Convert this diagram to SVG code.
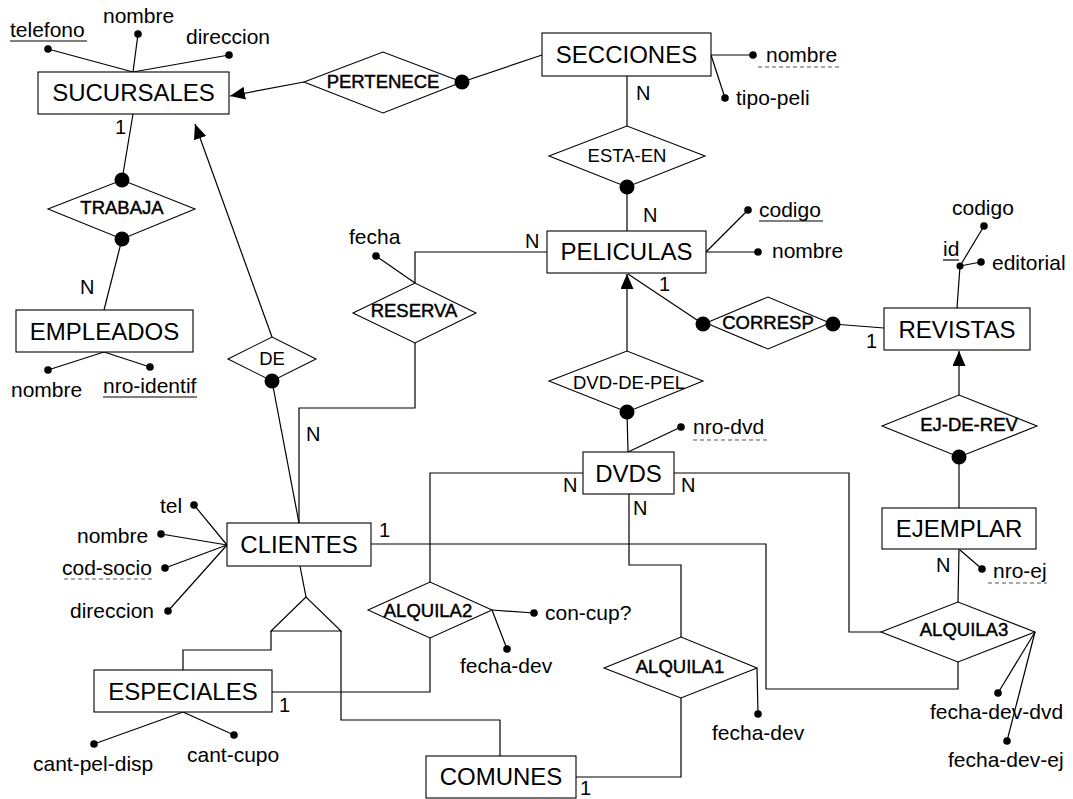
<svg xmlns="http://www.w3.org/2000/svg" width="1073" height="799" viewBox="0 0 1073 799">
<style>
text{font-family:"Liberation Sans",Arial,Helvetica,sans-serif;fill:#000}
.ent rect{fill:#fff;stroke:#000;stroke-width:1.1}
.ent text{font-size:24px;text-anchor:middle}
.rel polygon{fill:#fff;stroke:#000;stroke-width:1.1}
.rel text{font-size:18.5px;text-anchor:middle}
.rel text.b{stroke:#000;stroke-width:0.45}
.att text{font-size:21px}
.card{font-size:20px}
.c line,.c polyline{stroke:#000;stroke-width:1.2;fill:none}
.dot{fill:#000}
.ul{stroke:#000;stroke-width:1.2}
.dul{stroke:#555;stroke-width:1.2;stroke-dasharray:4 3}
</style>
<defs>
<marker id="arr" markerUnits="userSpaceOnUse" markerWidth="16" markerHeight="13" refX="15" refY="6.5" orient="auto">
<path d="M0,0 L15,6.5 L0,13 z" fill="#000"/>
</marker>
</defs>
<rect width="1073" height="799" fill="#fff"/>

<g id="connectors" class="c">
<line x1="304" y1="82" x2="230" y2="96" marker-end="url(#arr)"/>
<line x1="462" y1="82" x2="542" y2="55"/>
<line x1="133" y1="114" x2="122" y2="180"/>
<line x1="122" y1="239" x2="104" y2="310"/>
<line x1="272" y1="337" x2="195" y2="124" marker-end="url(#arr)"/>
<line x1="272" y1="381" x2="299" y2="523"/>
<line x1="627" y1="76" x2="627" y2="126"/>
<line x1="627" y1="187" x2="627" y2="231"/>
<polyline points="547,252 415,252 415,283"/>
<polyline points="415,343 415,408 299,408 299,523"/>
<line x1="627" y1="351" x2="627" y2="274" marker-end="url(#arr)"/>
<line x1="628" y1="274" x2="703" y2="324"/>
<line x1="833" y1="324" x2="884" y2="328"/>
<line x1="959" y1="395" x2="959" y2="351" marker-end="url(#arr)"/>
<line x1="959" y1="457" x2="959" y2="508"/>
<line x1="627" y1="412" x2="628" y2="452"/>
<polyline points="583,473 430,473 430,582"/>
<polyline points="430,638 430,692 272,692"/>
<polyline points="674,473 849,473 849,632 881,632"/>
<polyline points="371,544 766,544 766,689 958,689 958,662"/>
<line x1="959" y1="549" x2="958" y2="602"/>
<polyline points="629,494 629,565 681,565 681,637"/>
<polyline points="681,698 681,777 576,777"/>
<line x1="300" y1="566" x2="306" y2="597"/>
<polyline points="271,631 271,650 183,650 183,670"/>
<polyline points="341,631 341,720 500,720 500,756"/>
<!-- attribute links -->
<line x1="133" y1="72" x2="48" y2="49"/>
<line x1="133" y1="72" x2="138" y2="34"/>
<line x1="133" y1="72" x2="229" y2="55"/>
<line x1="104" y1="352" x2="48" y2="370"/>
<line x1="104" y1="352" x2="150" y2="367"/>
<line x1="711" y1="55" x2="753" y2="55"/>
<line x1="711" y1="55" x2="725" y2="98"/>
<line x1="706" y1="252" x2="748" y2="210"/>
<line x1="706" y1="252" x2="758" y2="252"/>
<line x1="957" y1="308" x2="960" y2="266"/>
<line x1="960" y1="266" x2="984" y2="226"/>
<line x1="960" y1="266" x2="981" y2="262"/>
<line x1="415" y1="283" x2="376" y2="256"/>
<line x1="628" y1="452" x2="681" y2="427"/>
<line x1="227" y1="545" x2="194" y2="505"/>
<line x1="227" y1="545" x2="161" y2="534"/>
<line x1="227" y1="545" x2="165" y2="568"/>
<line x1="227" y1="545" x2="168" y2="611"/>
<line x1="183" y1="712" x2="94" y2="744"/>
<line x1="183" y1="712" x2="234" y2="735"/>
<line x1="492" y1="610" x2="534" y2="613"/>
<line x1="492" y1="610" x2="507" y2="649"/>
<line x1="757" y1="668" x2="758" y2="714"/>
<line x1="960" y1="550" x2="982" y2="569"/>
<line x1="1035" y1="632" x2="998" y2="693"/>
<line x1="1035" y1="632" x2="1007" y2="741"/>
</g>

<!-- entities -->
<g id="SUCURSALES" class="ent"><rect x="38" y="72" width="191" height="42"/><text x="133.5" y="101">SUCURSALES</text></g>
<g id="SECCIONES" class="ent"><rect x="542" y="33" width="169" height="43"/><text x="626.5" y="63">SECCIONES</text></g>
<g id="PELICULAS" class="ent"><rect x="547" y="231" width="159" height="42"/><text x="626.5" y="260">PELICULAS</text></g>
<g id="REVISTAS" class="ent"><rect x="884" y="308" width="146" height="42"/><text x="957" y="338">REVISTAS</text></g>
<g id="EMPLEADOS" class="ent"><rect x="16" y="310" width="177" height="42"/><text x="104.5" y="340">EMPLEADOS</text></g>
<g id="CLIENTES" class="ent"><rect x="227" y="523" width="144" height="43"/><text x="299" y="553">CLIENTES</text></g>
<g id="DVDS" class="ent"><rect x="583" y="452" width="91" height="42"/><text x="628.5" y="482">DVDS</text></g>
<g id="EJEMPLAR" class="ent"><rect x="882" y="508" width="154" height="41"/><text x="959" y="537">EJEMPLAR</text></g>
<g id="ESPECIALES" class="ent"><rect x="94" y="670" width="178" height="42"/><text x="183" y="700">ESPECIALES</text></g>
<g id="COMUNES" class="ent"><rect x="426" y="756" width="150" height="42"/><text x="501" y="785">COMUNES</text></g>

<!-- ISA triangle -->
<g id="ISA" class="rel"><polygon points="306,597 271,631 341,631"/></g>

<!-- relationships -->
<g id="PERTENECE" class="rel"><polygon points="304,82 383,52 462,82 383,113"/><text class="b" x="383" y="88">PERTENECE</text><circle class="dot" cx="462" cy="82" r="7.5"/></g>
<g id="TRABAJA" class="rel"><polygon points="48,209 122,180 195,209 122,239"/><text class="b" x="122" y="214">TRABAJA</text><circle class="dot" cx="122" cy="180" r="7.5"/><circle class="dot" cx="122" cy="239" r="7.5"/></g>
<g id="ESTA-EN" class="rel"><polygon points="549,156 627,126 705,156 627,187"/><text x="627" y="162">ESTA-EN</text><circle class="dot" cx="627" cy="187" r="7.5"/></g>
<g id="RESERVA" class="rel"><polygon points="353,313 415,283 476,313 415,343"/><text class="b" x="414" y="317">RESERVA</text></g>
<g id="DE" class="rel"><polygon points="228,359 272,337 316,359 272,381"/><text x="272" y="365">DE</text><circle class="dot" cx="272" cy="381" r="7.5"/></g>
<g id="DVD-DE-PEL" class="rel"><polygon points="549,381 627,351 703,381 627,412"/><text x="629" y="389">DVD-DE-PEL</text><circle class="dot" cx="627" cy="412" r="7.5"/></g>
<g id="CORRESP" class="rel"><polygon points="706,323 768,297 830,323 768,349"/><text class="b" x="768" y="329">CORRESP</text><circle class="dot" cx="703" cy="324" r="7.5"/><circle class="dot" cx="833" cy="324" r="7.5"/></g>
<g id="EJ-DE-REV" class="rel"><polygon points="882,426 959,395 1037,426 959,457"/><text class="b" x="969" y="431">EJ-DE-REV</text><circle class="dot" cx="959" cy="457" r="7.5"/></g>
<g id="ALQUILA2" class="rel"><polygon points="368,610 430,582 492,610 430,638"/><text class="b" x="428" y="617">ALQUILA2</text></g>
<g id="ALQUILA1" class="rel"><polygon points="604,668 681,637 757,668 681,698"/><text class="b" x="680" y="673">ALQUILA1</text></g>
<g id="ALQUILA3" class="rel"><polygon points="881,632 958,602 1035,632 958,662"/><text class="b" x="964" y="636">ALQUILA3</text></g>

<!-- attributes -->
<g id="att-suc-telefono" class="att"><circle class="dot" cx="48" cy="49" r="3.8"/><text x="10" y="37">telefono</text><line class="ul" x1="10" y1="41" x2="87" y2="41"/></g>
<g id="att-suc-nombre" class="att"><circle class="dot" cx="138" cy="34" r="3.8"/><text x="103" y="23">nombre</text></g>
<g id="att-suc-direccion" class="att"><circle class="dot" cx="229" cy="55" r="3.8"/><text x="186" y="44">direccion</text></g>
<g id="att-emp-nombre" class="att"><circle class="dot" cx="48" cy="370" r="3.8"/><text x="11" y="397">nombre</text></g>
<g id="att-emp-nro-identif" class="att"><circle class="dot" cx="150" cy="367" r="3.8"/><text x="103" y="393">nro-identif</text><line class="ul" x1="103" y1="397" x2="197" y2="397"/></g>
<g id="att-sec-nombre" class="att"><circle class="dot" cx="753" cy="55" r="3.8"/><text x="766" y="62">nombre</text><line class="dul" x1="758" y1="67" x2="841" y2="67"/></g>
<g id="att-sec-tipo-peli" class="att"><circle class="dot" cx="725" cy="98" r="3.8"/><text x="736" y="105">tipo-peli</text></g>
<g id="att-pel-codigo" class="att"><circle class="dot" cx="748" cy="210" r="3.8"/><text x="759" y="217">codigo</text><line class="ul" x1="759" y1="221" x2="823" y2="221"/></g>
<g id="att-pel-nombre" class="att"><circle class="dot" cx="758" cy="252" r="3.8"/><text x="772" y="258">nombre</text></g>
<g id="att-rev-id" class="att"><circle class="dot" cx="960" cy="266" r="3.5"/><text x="943" y="256">id</text><line class="ul" x1="943" y1="260" x2="959" y2="260"/></g>
<g id="att-rev-codigo" class="att"><circle class="dot" cx="984" cy="226" r="3.8"/><text x="952" y="215">codigo</text></g>
<g id="att-rev-editorial" class="att"><circle class="dot" cx="981" cy="262" r="3.8"/><text x="992" y="270">editorial</text></g>
<g id="att-res-fecha" class="att"><circle class="dot" cx="376" cy="256" r="3.8"/><text x="349" y="244">fecha</text></g>
<g id="att-dvd-nro-dvd" class="att"><circle class="dot" cx="681" cy="427" r="3.8"/><text x="693" y="434">nro-dvd</text><line class="dul" x1="693" y1="440" x2="770" y2="440"/></g>
<g id="att-cli-tel" class="att"><circle class="dot" cx="194" cy="505" r="3.8"/><text x="160" y="513">tel</text></g>
<g id="att-cli-nombre" class="att"><circle class="dot" cx="161" cy="534" r="3.8"/><text x="77" y="543">nombre</text></g>
<g id="att-cli-cod-socio" class="att"><circle class="dot" cx="165" cy="568" r="3.8"/><text x="62" y="575">cod-socio</text><line class="dul" x1="64" y1="579" x2="152" y2="579"/></g>
<g id="att-cli-direccion" class="att"><circle class="dot" cx="168" cy="611" r="3.8"/><text x="70" y="618">direccion</text></g>
<g id="att-esp-cant-pel-disp" class="att"><circle class="dot" cx="94" cy="744" r="3.8"/><text x="33" y="771">cant-pel-disp</text></g>
<g id="att-esp-cant-cupo" class="att"><circle class="dot" cx="234" cy="735" r="3.8"/><text x="187" y="762">cant-cupo</text></g>
<g id="att-alq2-con-cup" class="att"><circle class="dot" cx="534" cy="613" r="3.8"/><text x="545" y="620">con-cup?</text></g>
<g id="att-alq2-fecha-dev" class="att"><circle class="dot" cx="507" cy="649" r="3.8"/><text x="460" y="673">fecha-dev</text></g>
<g id="att-alq1-fecha-dev" class="att"><circle class="dot" cx="758" cy="714" r="3.8"/><text x="712" y="740">fecha-dev</text></g>
<g id="att-eje-nro-ej" class="att"><circle class="dot" cx="982" cy="569" r="3.8"/><text x="993" y="578">nro-ej</text><line class="dul" x1="988" y1="583" x2="1047" y2="583"/></g>
<g id="att-alq3-fecha-dev-dvd" class="att"><circle class="dot" cx="998" cy="693" r="3.8"/><text x="930" y="719">fecha-dev-dvd</text></g>
<g id="att-alq3-fecha-dev-ej" class="att"><circle class="dot" cx="1007" cy="741" r="3.8"/><text x="948" y="767">fecha-dev-ej</text></g>

<!-- cardinalities -->
<g id="cardinalities">
<text class="card" x="115" y="134">1</text>
<text class="card" x="80" y="294">N</text>
<text class="card" x="636" y="100">N</text>
<text class="card" x="643" y="222">N</text>
<text class="card" x="525" y="248">N</text>
<text class="card" x="659" y="291">1</text>
<text class="card" x="866" y="348">1</text>
<text class="card" x="306" y="441">N</text>
<text class="card" x="379" y="537">1</text>
<text class="card" x="563" y="492">N</text>
<text class="card" x="681" y="492">N</text>
<text class="card" x="633" y="515">N</text>
<text class="card" x="936" y="572">N</text>
<text class="card" x="279" y="712">1</text>
<text class="card" x="580" y="795">1</text>
</g>
</svg>
